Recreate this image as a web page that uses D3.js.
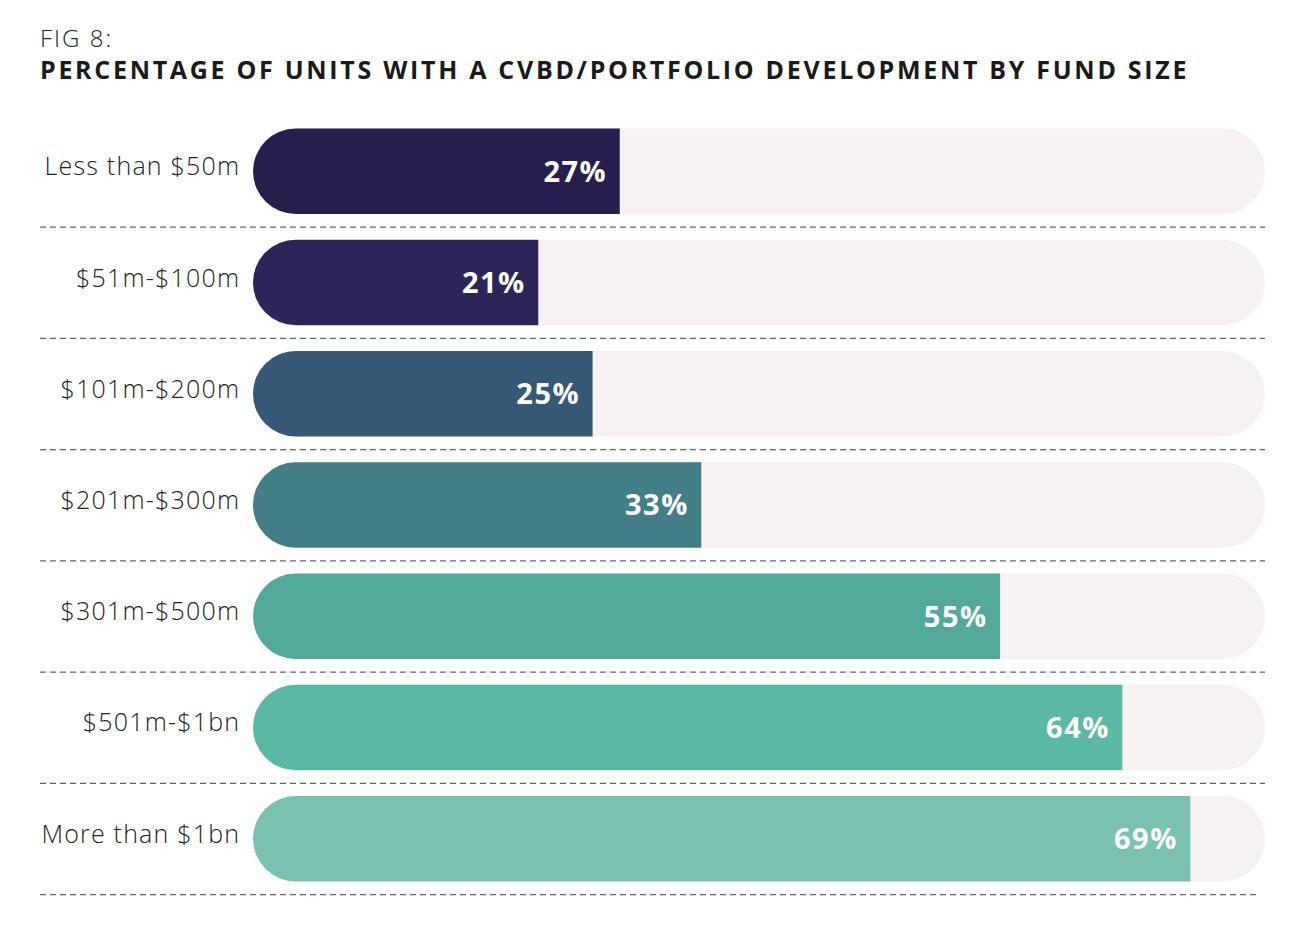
<!DOCTYPE html>
<html>
<head>
<meta charset="utf-8">
<script src="https://cdn.jsdelivr.net/npm/d3@7"></script>
<style>
body{margin:0;background:#fff;}
</style>
</head>
<body>
<script>
var categories = ['Less than $50m','$51m-$100m','$101m-$200m','$201m-$300m','$301m-$500m','$501m-$1bn','More than $1bn'];
var values = [27,21,25,33,55,64,69];
var colors = ['#271e4e','#2d2559','#355876','#427e86','#52a99a','#5bb8a4','#7bc1b2'];

var svg = d3.select("body").append("svg").attr("width",1302).attr("height",946);

svg.append("text").attr("x",40).attr("y",47)
    .attr("font-family","Open Sans").attr("font-weight","300").attr("font-size","24")
    .attr("letter-spacing","2").attr("fill","#222").text("FIG 8:");
svg.append("text").attr("x",40).attr("y",79)
    .attr("font-family","Open Sans").attr("font-weight","bold").attr("font-size","25")
    .attr("fill","#1a1a1a").attr("letter-spacing","2.7").text("PERCENTAGE OF UNITS WITH A CVBD/PORTFOLIO DEVELOPMENT BY FUND SIZE");

// track ends at about 74.5%
var x = d3.scaleLinear().domain([0,74.5]).range([253,1265]);
var y = d3.scaleBand().domain(categories).range([115,897]).paddingInner(0.23).paddingOuter(0.13);

var h = y.bandwidth();
var r = h/2;

var rows = svg.selectAll("g.row").data(categories).enter().append("g").attr("class","row");

rows.append("rect")
    .attr("x",x(0)).attr("y",function(d){return y(d)-1;})
    .attr("width",x(74.5)-x(0)).attr("height",h)
    .attr("rx",r).attr("ry",r).attr("fill","#f6f2f1");

rows.append("path")
    .attr("fill",function(d,i){return colors[i];})
    .attr("d",function(d,i){
        var x0 = x(0), x1 = x(values[i]), y0 = y(d)-1;
        return "M"+(x0+r)+","+y0+"H"+x1+"V"+(y0+h)+"H"+(x0+r)+"A"+r+","+r+" 0 0 1 "+(x0+r)+","+y0+"Z";
    });

rows.append("text")
    .attr("x",function(d,i){return x(values[i])-14+1.5;})
    .attr("y",function(d){return y(d)+h/2-1;})
    .attr("dy","0.36em").attr("text-anchor","end")
    .attr("font-family","Open Sans").attr("font-weight","bold").attr("font-size","29")
    .attr("letter-spacing","1.5").attr("fill","#fff")
    .text(function(d,i){return values[i]+"%";});

rows.append("text")
    .attr("x",239+1.2).attr("y",function(d){return y(d)+h/2-6;})
    .attr("dy","0.36em").attr("text-anchor","end")
    .attr("font-family","Open Sans").attr("font-weight","300").attr("font-size","25")
    .attr("letter-spacing","1.2").attr("fill","#222")
    .text(function(d){return d;});

rows.append("line")
    .attr("x1",40).attr("x2",function(d,i){return i==categories.length-1?1260:1265;})
    .attr("y1",function(d){return y(d)+h+12;})
    .attr("y2",function(d){return y(d)+h+12;})
    .attr("stroke","#666").attr("stroke-width",1.3).attr("stroke-dasharray","6,4");
</script>
</body>
</html>
